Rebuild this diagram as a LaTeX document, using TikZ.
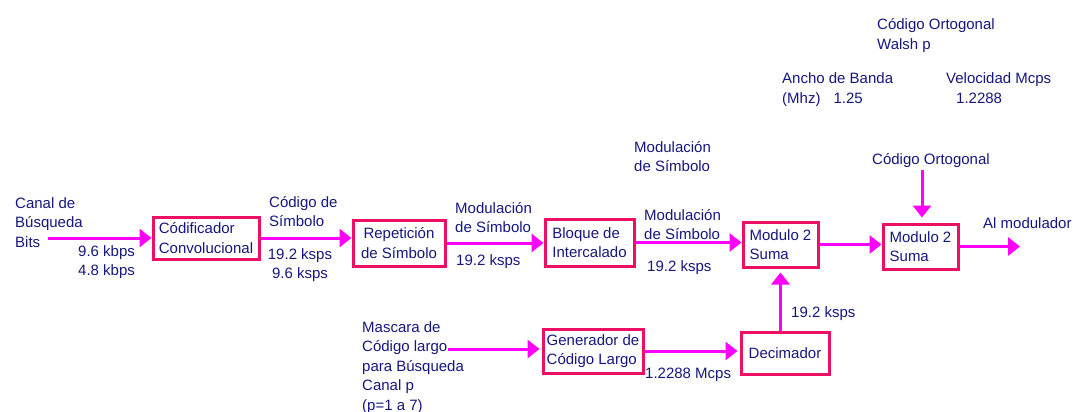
\documentclass[tikz,border=0pt]{standalone}
\usepackage{fontspec}
\setmainfont{Liberation Sans}
\usetikzlibrary{arrows.meta}
\definecolor{txtc}{RGB}{22,22,125}
\definecolor{boxc}{RGB}{235,16,100}
\definecolor{arrc}{RGB}{255,0,255}
\newcommand{\ml}[2][l]{\begin{tabular}[t]{@{}#1@{}}#2\end{tabular}}
\begin{document}
\begin{tikzpicture}[x=1pt,y=-1pt,
  every node/.style={font=\fontsize{15pt}{19.5pt}\selectfont, text=txtc, inner sep=0pt},
  lbl/.style={anchor=base west},
  blk/.style={draw=boxc, line width=3pt, align=left},
  flow/.style={draw=arrc, line width=3pt, -{Triangle[length=12pt,width=18pt]}}]
\useasboundingbox (0,0) rectangle (1073,412);

% blocks
\node[blk, minimum width=106pt, minimum height=42pt] (cod) at (206,238) {Códificador\\Convolucional};
\node[blk, align=center, minimum width=92pt, minimum height=46pt] (rep) at (399,243) {Repetición\\de Símbolo};
\node[blk, minimum width=89pt, minimum height=47pt] (bloq) at (589.5,242.5) {Bloque de\\Intercalado};
\node[blk, minimum width=75pt, minimum height=45pt] (mod1) at (780.5,244.5) {Modulo 2\\Suma};
\node[blk, minimum width=75pt, minimum height=45pt] (mod2) at (920.5,246.5) {Modulo 2\\Suma};
\node[blk, minimum width=88pt, minimum height=42pt] (dec) at (785,353) {Decimador};
\node[blk, minimum width=100pt, minimum height=44pt] (gen) at (593,351) {Generador de\\Código Largo};

% labels
\node[lbl] (canal) at (15,208) {\ml{Canal de\\Búsqueda\\Bits}};
\node[lbl] (kbps) at (78,256) {\ml{9.6 kbps\\4.8 kbps}};
\node[lbl] (codsim) at (269,207) {\ml{Código de\\Símbolo}};
\node[anchor=base] (ksps1) at (300,259) {\ml[c]{19.2 ksps\\9.6 ksps}};
\node[lbl] (moda) at (455,213) {\ml{Modulación\\de Símbolo}};
\node[lbl] (ksps2) at (456,265) {19.2 ksps};
\node[lbl] (modb) at (644,220) {\ml{Modulación\\de Símbolo}};
\node[lbl] (ksps3) at (647,271) {19.2 ksps};
\node[lbl] (modc) at (634,152) {\ml{Modulación\\de Símbolo}};
\node[lbl] (walsh) at (877,30) {\ml{Código Ortogonal\\Walsh p}};
\node[lbl] (ancho) at (782,84) {\ml{Ancho de Banda\\(Mhz)\hspace{13pt}1.25}};
\node[lbl] (veloc) at (946,84) {\ml{Velocidad Mcps\\\hspace{10pt}1.2288}};
\node[lbl] (ortho) at (872,164) {Código Ortogonal};
\node[lbl] (almod) at (983,228) {Al modulador};
\node[lbl] (ksps4) at (791,317) {19.2 ksps};
\node[lbl] (mask) at (362,332) {\ml{Mascara de\\Código largo\\para Búsqueda\\Canal p\\(p=1 a 7)}};
\node[lbl] (mcps) at (645,378) {1.2288 Mcps};

% connectors
\coordinate (in) at (48,238);
\coordinate (out) at (1020,246);
\coordinate (orin) at (922,170);
\coordinate (mk) at (448,349);
\draw[flow] (in) -- (cod.west);
\draw[flow] (cod.east) -- (cod.east -| rep.west);
\draw[flow] (rep.east) -- (rep.east -| bloq.west);
\draw[flow] (bloq.east) -- (bloq.east -| mod1.west);
\draw[flow] (mod1.east) -- (mod1.east -| mod2.west);
\draw[flow] (mod2.east) -- (mod2.east -| out);
\draw[flow, shorten >=5pt] (orin) -- (orin |- mod2.north);
\draw[flow, shorten >=4pt] (mod1.south |- dec.north) -- (mod1.south);
\draw[flow, shorten >=2pt] (mk) -- (mk -| gen.west);
\draw[flow, shorten >=2pt] (gen.east) -- (gen.east -| dec.west);
\end{tikzpicture}
\end{document}
